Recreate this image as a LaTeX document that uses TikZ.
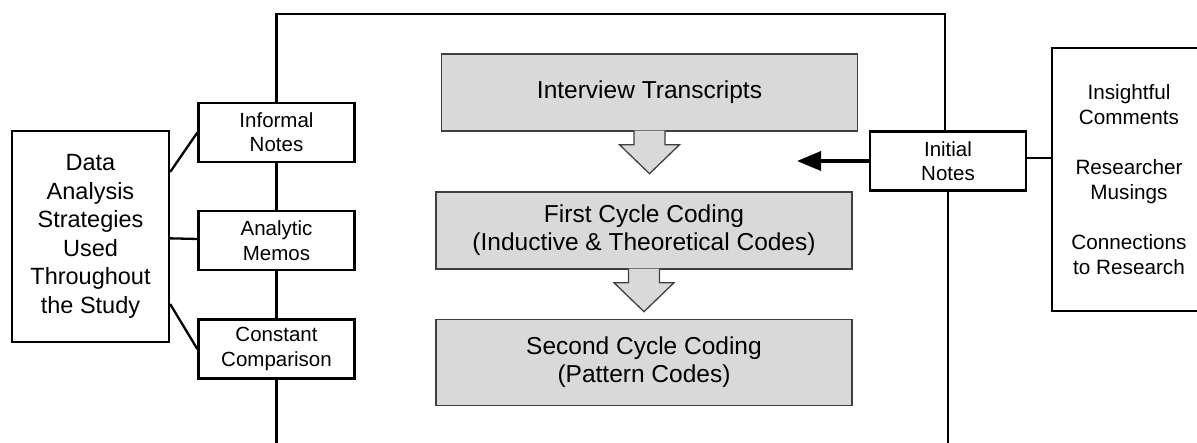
\documentclass[tikz,border=0pt]{standalone}
\usepackage{fontspec}
\setmainfont{Liberation Sans}
\usetikzlibrary{positioning,arrows.meta,calc}

\begin{document}
\begin{tikzpicture}[
  x=1pt, y=-1pt,
  outer/.style={draw, line width=2.3pt, align=center, inner sep=0pt},
  strat/.style={outer, minimum width=156pt, minimum height=59pt,
                font=\fontsize{20.5}{24.3}\selectfont},
  stage/.style={draw=black!75, fill=black!15, line width=1.4pt, align=center,
                inner sep=0pt, minimum width=416pt, minimum height=77pt,
                font=\fontsize{24.5}{28.3}\selectfont},
  link/.style={line width=2.3pt},
  flow/.style={draw=black!75, fill=black!15, line width=1.3pt, line join=miter},
  push/.style={-{Triangle[length=24pt,width=19pt]}, line width=3.5pt},
]
  \useasboundingbox (0,0) rectangle (1197,442);

  % strategies on the left
  \node[outer, minimum width=157pt, minimum height=211pt,
        font=\fontsize{23.5}{28.5}\selectfont] (data) at (90.5,236.5)
    {Data\\Analysis\\Strategies\\Used\\Throughout\\the Study};
  \node[strat] (informal) at (276.5,132.5) {Informal\\Notes};
  \node[strat, below=47pt of informal] (analytic) {Analytic\\Memos};
  \node[strat, below=47pt of analytic] (constant) {Constant\\Comparison};

  % coding stages
  \node[stage] (trans) at (649.5,92.5) {Interview Transcripts};
  \node[stage] (first) at (644,230.5)
    {First Cycle Coding\\(Inductive \& Theoretical Codes)};
  \node[stage, minimum height=86pt, below=49pt of first] (second)
    {Second Cycle Coding\\(Pattern Codes)};

  % notes on the right
  \node[strat] (initial) at (948,161) {Initial\\Notes};
  \node[outer, minimum width=154pt, minimum height=263pt,
        font=\fontsize{20.7}{25}\selectfont] (extras) at (1129,179.5)
    {Insightful\\Comments\\[25pt]Researcher\\Musings\\[25pt]Connections\\to Research};

  \coordinate (roof) at (0,14);
  \coordinate (foot) at (0,450);
  \coordinate (tip) at (797,161);

  \draw[link] (informal.north) |- ([xshift=-3pt]initial.north |- roof)
    -- ([xshift=-3pt]initial.north);
  \draw[link] (informal) -- (analytic);
  \draw[link] (analytic) -- (constant);
  \draw[link] (constant) -- (constant |- foot);
  \draw[link] (initial) -- (initial |- foot);
  \draw[link] ([yshift=64.5pt]data.east) -- (informal.west);
  \draw[link] (data) -- (analytic);
  \draw[link] ([yshift=-67.5pt]data.east) -- (constant.west);
  \draw[link] ([yshift=3pt]initial.east) -- ([yshift=3pt]initial.east -| extras.west);
  \draw[push] (initial) -- (tip);

  \foreach \s in {trans,first}
    \draw[flow] ([xshift=-15.5pt,yshift=1pt]\s.south) -- ++(0,14) -- ++(-14.5,0)
      -- ($(\s.south)+(0,42)$) -- ++(30,-29) -- ++(-14.5,0) -- ++(0,-14);
\end{tikzpicture}
\end{document}
